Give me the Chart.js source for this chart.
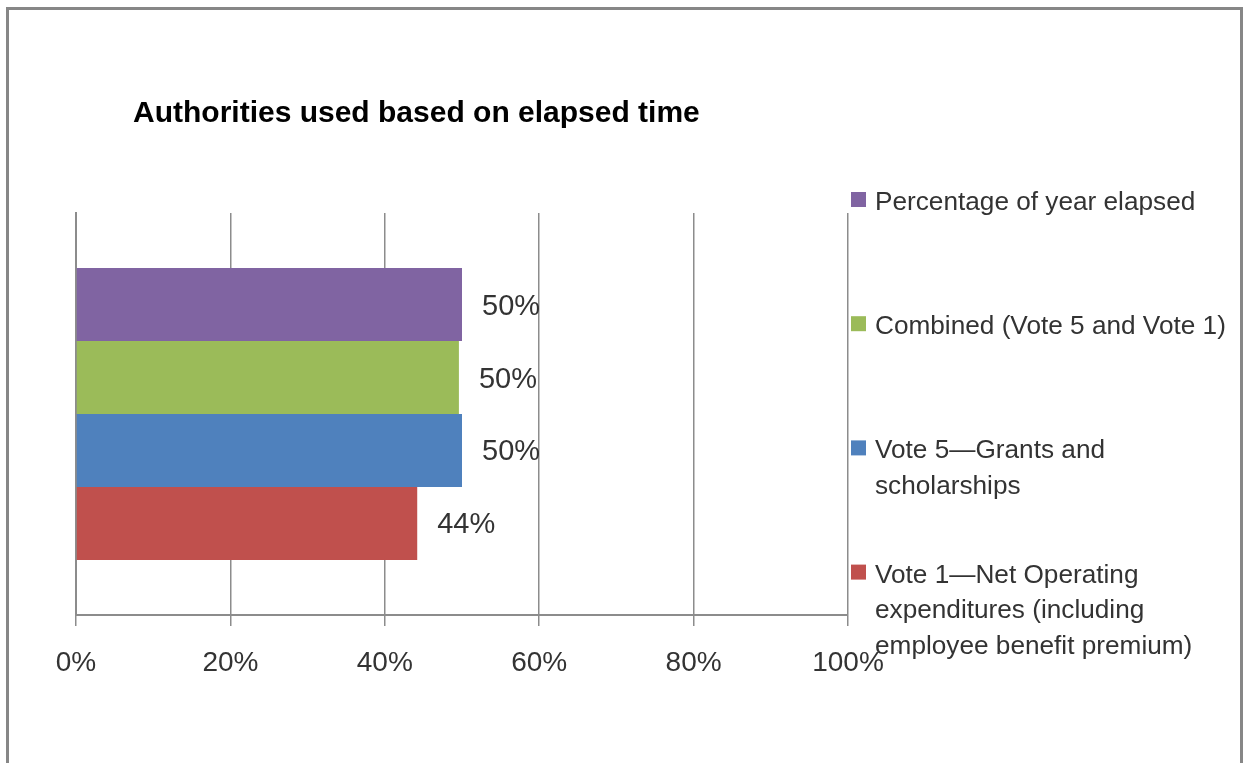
<!DOCTYPE html>
<html>
<head>
<meta charset="utf-8">
<script src="https://cdn.jsdelivr.net/npm/chart.js@4/dist/chart.umd.min.js"></script>
<style>
  html, body { margin: 0; padding: 0; background: #ffffff; }
  #wrap { width: 1243px; height: 763px; position: relative; }
</style>
</head>
<body>
<div id="wrap"><canvas id="c" width="1243" height="763"></canvas></div>
<script>
// ---- data ----
const categories = ["Authorities"];
const seriesNames = [
  ["Percentage of year elapsed"],
  ["Combined (Vote 5 and Vote 1)"],
  ["Vote 5\u2014Grants and", "scholarships"],
  ["Vote 1\u2014Net Operating", "expenditures (including", "employee benefit premium)"]
];
const seriesValues = [0.50, 0.496, 0.50, 0.442];
const seriesColors = ["#8064A2", "#9BBB59", "#4F81BD", "#C0504D"];
const xTicks = [0, 0.2, 0.4, 0.6, 0.8, 1.0];
const chartTitle = "Authorities used based on elapsed time";

const gridColor = "#8C8C8C";
const textColor = "#333333";

const framePlugin = {
  id: "frame",
  beforeDraw(chart) {
    const ctx = chart.ctx;
    ctx.save();
    ctx.fillStyle = "#ffffff";
    ctx.fillRect(0, 0, chart.width, chart.height);
    ctx.strokeStyle = "#878787";
    ctx.lineWidth = 3;
    ctx.strokeRect(7.5, 8.5, 1234, 800);
    ctx.restore();
  }
};

const titlePlugin = {
  id: "customTitle",
  afterDraw(chart) {
    const ctx = chart.ctx;
    ctx.save();
    ctx.font = "bold 30px 'Liberation Sans', Arial, sans-serif";
    ctx.fillStyle = "#000000";
    ctx.textAlign = "left";
    ctx.textBaseline = "alphabetic";
    ctx.fillText(chartTitle, 133, 122);
    ctx.restore();
  }
};

const dataLabelPlugin = {
  id: "dataLabels",
  afterDatasetsDraw(chart) {
    const ctx = chart.ctx;
    ctx.save();
    ctx.font = "29px 'Liberation Sans', Arial, sans-serif";
    ctx.fillStyle = textColor;
    ctx.textAlign = "left";
    ctx.textBaseline = "middle";
    chart.data.datasets.forEach((ds, i) => {
      const meta = chart.getDatasetMeta(i);
      meta.data.forEach((bar, j) => {
        const v = ds.data[j];
        ctx.fillText(Math.round(v * 100) + "%", bar.x + 20, bar.y + 2);
      });
    });
    ctx.restore();
  }
};

const legendPlugin = {
  id: "customLegend",
  afterDraw(chart) {
    const ctx = chart.ctx;
    ctx.save();
    ctx.font = "26.2px 'Liberation Sans', Arial, sans-serif";
    ctx.fillStyle = textColor;
    ctx.textAlign = "left";
    ctx.textBaseline = "alphabetic";
    const x0 = 851, textX = 875, base0 = 210, step = 124.2, lineH = 35.5;
    chart.data.datasets.forEach((ds, i) => {
      const base = base0 + i * step;
      ctx.fillStyle = ds.backgroundColor;
      ctx.fillRect(x0, base - 18, 15, 15);
      ctx.fillStyle = textColor;
      const lines = Array.isArray(ds.label) ? ds.label : [ds.label];
      lines.forEach((ln, k) => ctx.fillText(ln, textX, base + k * lineH));
    });
    ctx.restore();
  }
};

new Chart(document.getElementById("c"), {
  type: "bar",
  data: {
    labels: categories,
    datasets: seriesNames.map((name, i) => ({
      label: name,
      data: [seriesValues[i]],
      backgroundColor: seriesColors[i],
      borderWidth: 0,
      categoryPercentage: 0.726,
      barPercentage: 1.0
    }))
  },
  options: {
    indexAxis: "y",
    responsive: false,
    animation: false,
    devicePixelRatio: 1,
    layout: { padding: { left: 76, top: 213, right: 395, bottom: 0 } },
    plugins: {
      legend: { display: false },
      title: { display: false },
      tooltip: { enabled: false }
    },
    scales: {
      x: {
        min: 0,
        max: 1,
        afterBuildTicks(scale) { scale.ticks = xTicks.map(v => ({ value: v })); },
        afterFit(scale) { scale.height = 148; },
        grid: { color: gridColor, lineWidth: 1.5, tickLength: 11, drawTicks: true },
        border: { display: true, color: gridColor, width: 2 },
        ticks: {
          color: textColor,
          padding: 20,
          maxRotation: 0,
          font: { family: "'Liberation Sans Narrow', 'Liberation Sans', Arial, sans-serif", size: 28 },
          callback: v => Math.round(v * 100) + "%"
        }
      },
      y: {
        afterFit(scale) { scale.width = 0; },
        grid: { display: false },
        border: { display: true, color: gridColor, width: 2 },
        ticks: { display: false }
      }
    }
  },
  plugins: [framePlugin, titlePlugin, dataLabelPlugin, legendPlugin]
});
</script>
</body>
</html>
